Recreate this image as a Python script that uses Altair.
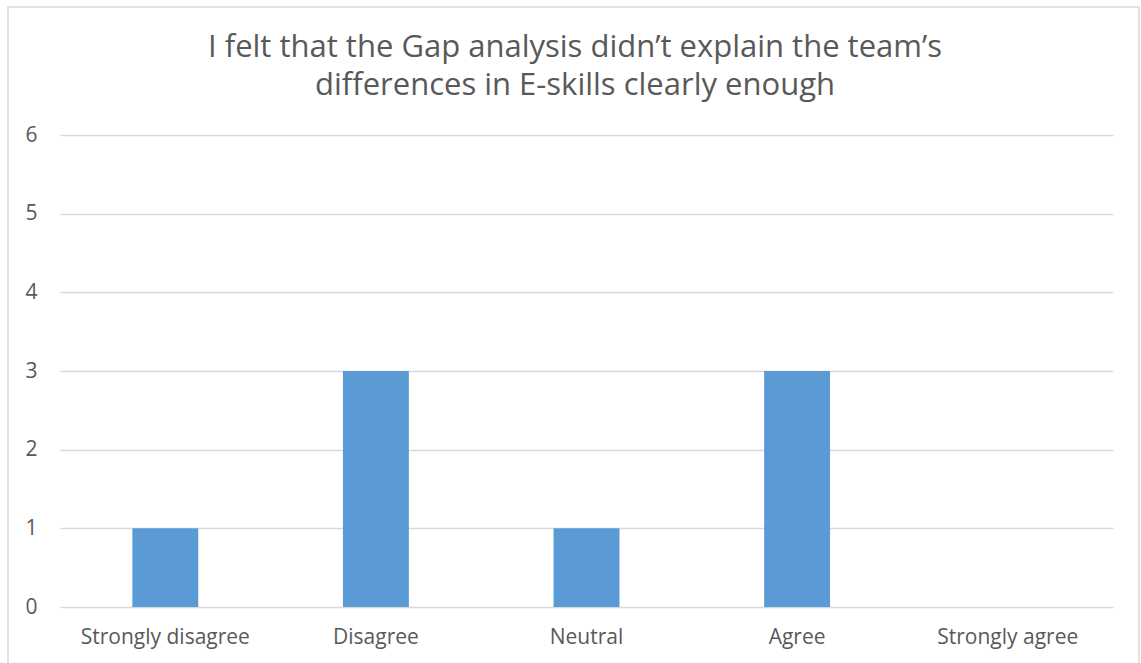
import altair as alt
import pandas as pd

categories = ["Strongly disagree", "Disagree", "Neutral", "Agree", "Strongly agree"]
counts = [1, 3, 1, 3, 0]
y_ticks = [0, 1, 2, 3, 4, 5, 6]
title_lines = ["I felt that the Gap analysis didn\u2019t explain the team\u2019s",
               "differences in E-skills clearly enough"]

df = pd.DataFrame({"category": categories, "count": counts})
title_df = pd.DataFrame({"line": title_lines, "ypix": [-78, -40]})

FONT = "Open Sans"
GRAY = "#595959"

border = alt.Chart(pd.DataFrame({"a": [0]})).mark_rect(
    fill=None, stroke="#D9D9D9", strokeWidth=1.5
).encode(
    x=alt.value(-52), x2=alt.value(1079), y=alt.value(-128), y2=alt.value(540)
)

title = alt.Chart(title_df).mark_text(
    font=FONT, fontSize=31, color=GRAY, align="center", baseline="alphabetic"
).encode(
    text="line:N",
    x=alt.value(515),
    y=alt.Y("ypix:Q", scale=None),
)

bars = alt.Chart(df).mark_bar(color="#5B9BD5").encode(
    x=alt.X("category:N", sort=categories,
            scale=alt.Scale(paddingInner=0.687, paddingOuter=0.3435),
            axis=alt.Axis(title=None, labelAngle=0, labelFont=FONT, labelFontSize=21,
                          labelColor=GRAY, labelPadding=19, ticks=False, domain=False)),
    y=alt.Y("count:Q", scale=alt.Scale(domain=[0, 6], nice=False),
            axis=alt.Axis(title=None, values=y_ticks, labelFont=FONT, labelFontSize=21,
                          labelColor=GRAY, labelPadding=23, ticks=False, domain=False,
                          grid=True, gridColor="#D9D9D9", gridWidth=1.5)),
)

chart = alt.layer(border, bars, title).properties(
    width=1053, height=472,
    padding={"left": 60, "top": 135, "right": 28, "bottom": 56},
    autosize=alt.AutoSizeParams(type="none"),
).configure_view(stroke=None)

chart.save("out.html", embed_options={"renderer": "svg", "actions": False})
